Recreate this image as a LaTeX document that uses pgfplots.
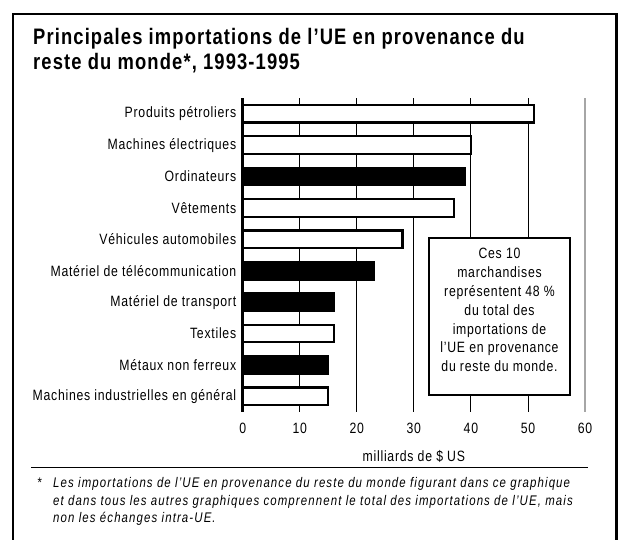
\documentclass[border=0pt]{standalone}
\usepackage{pgfplots}
\pgfplotsset{compat=1.18}
\usepackage{fontspec}
\setmainfont{Liberation Sans}[FakeStretch=0.82, LetterSpace=5]
\newfontfamily\titlefont{Liberation Sans}[FakeStretch=0.82, LetterSpace=5]
\newfontfamily\notefont{Liberation Sans}[FakeStretch=0.82, LetterSpace=8]

\begin{document}
\begin{tikzpicture}
% page and frame (bottom edge lies outside the picture)
\useasboundingbox (0bp,0bp) rectangle (621bp,540bp);
\fill[white] (0bp,0bp) rectangle (621bp,540bp);
\draw[line width=2.5bp] (13bp,0bp) -- (13bp,526bp) -- (616.5bp,526bp) -- (616.5bp,0bp);

% title
\node[anchor=base west, inner sep=0pt, font=\titlefont\fontsize{22.5}{26}\selectfont\bfseries] at (33bp,495bp) {Principales importations de l’UE en provenance du};
\node[anchor=base west, inner sep=0pt, font=\titlefont\fontsize{22.5}{26}\selectfont\bfseries] at (33bp,470bp) {reste du monde*, 1993-1995};

\begin{axis}[
    at={(242.7bp,128bp)}, anchor=south west,
    scale only axis,
    width=342.3bp, height=314bp,
    xmin=0, xmax=60,
    ymin=-0.5, ymax=9.5,
    y dir=reverse,
    xtick={0,10,...,60},
    ytick={0,...,9},
    yticklabels={Produits pétroliers, Machines électriques, Ordinateurs, Vêtements,
        Véhicules automobiles, Matériel de télécommunication, Matériel de transport,
        Textiles, Métaux non ferreux, Machines industrielles en général},
    major tick length=0pt,
    axis line style={draw=none},
    xmajorgrids,
    grid style={black, line width=0.8bp},
    tick label style={font=\fontsize{15}{17}\selectfont},
    /pgf/number format/assume math mode=true,
    xticklabel style={yshift=-8bp},
    yticklabel style={xshift=-3bp},
    xlabel={milliards de \$ US},
    xlabel style={font=\fontsize{15}{17}\selectfont, yshift=-9bp},
    clip=false,
]
\draw[gray!70, line width=2bp] (axis cs:60,-0.5) -- (axis cs:60,9.5);

% white bars
\addplot[xbar, bar width=17.5bp, bar shift=0pt, fill=white, draw=black, line width=2.2bp]
    coordinates {(51,0) (40,1) (37,3) (28,4) (16,7) (15,9)};
% black bars
\addplot[xbar, bar width=17.5bp, bar shift=0pt, fill=black, draw=black, line width=2.2bp]
    coordinates {(39,2) (23,5) (16,6) (15,8)};

\draw[line width=3bp] (axis cs:0,-0.5) -- (axis cs:0,9.5);
\end{axis}

% note box
\draw[line width=2.5bp, fill=white] (429bp,302bp) rectangle (570bp,145bp);
\node[align=center, font=\fontsize{15}{19}\selectfont] at (499.5bp,230bp)
    {Ces 10\\marchandises\\représentent 48 \%\\du total des\\importations de\\l'UE en provenance\\du reste du monde.};

% footnote
\draw[line width=1bp] (31bp,72bp) -- (588bp,72bp);
\node[anchor=base west, inner sep=0pt, font=\notefont\fontsize{14}{17}\selectfont\itshape] at (37bp,52bp) {*};
\node[anchor=base west, inner sep=0pt, font=\notefont\fontsize{14}{17}\selectfont\itshape] at (53bp,52bp) {Les importations de l’UE en provenance du reste du monde figurant dans ce graphique};
\node[anchor=base west, inner sep=0pt, font=\notefont\fontsize{14}{17}\selectfont\itshape] at (53bp,35bp) {et dans tous les autres graphiques comprennent le total des importations de l’UE, mais};
\node[anchor=base west, inner sep=0pt, font=\notefont\fontsize{14}{17}\selectfont\itshape] at (53bp,18bp) {non les échanges intra-UE.};
\end{tikzpicture}
\end{document}
